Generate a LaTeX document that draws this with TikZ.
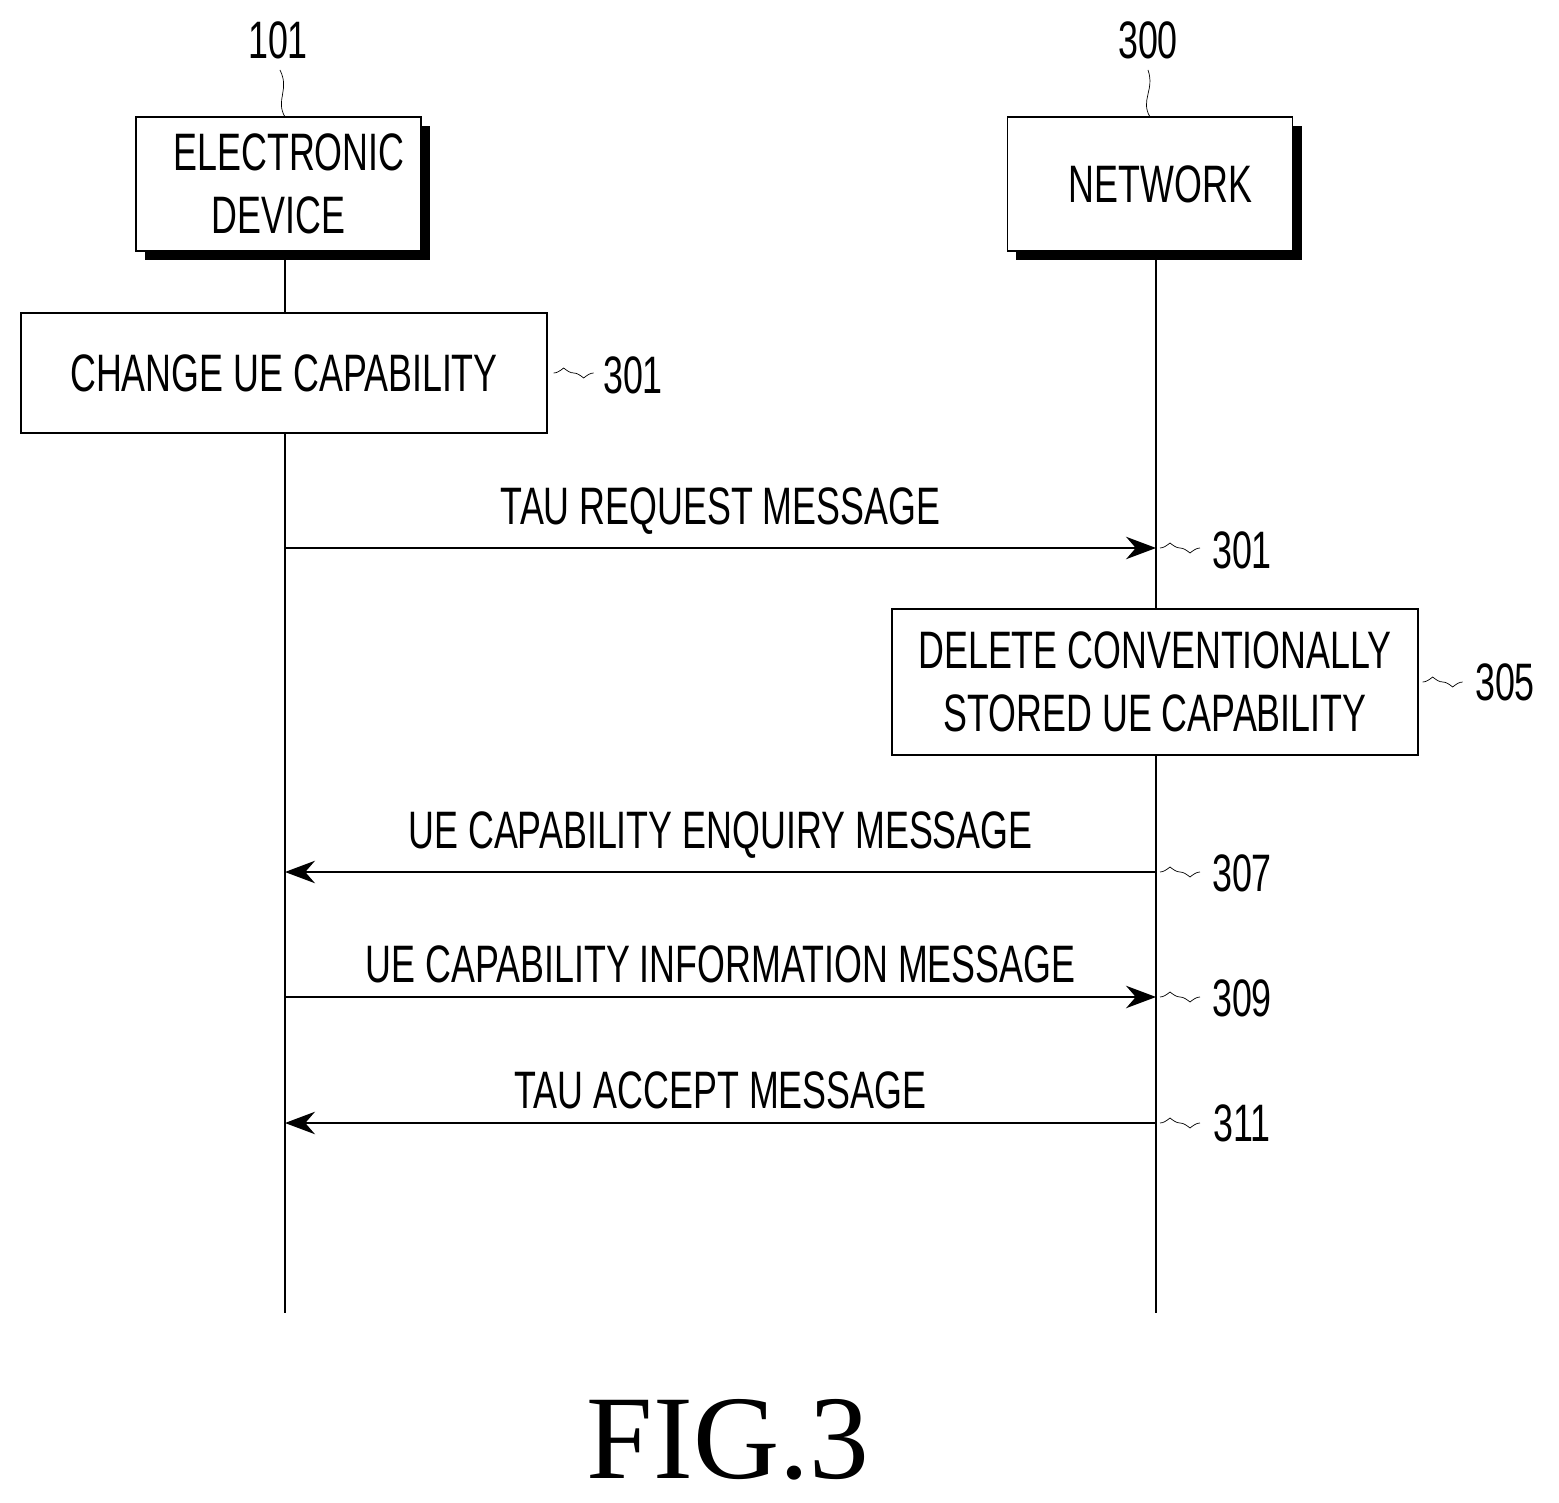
\documentclass[tikz,border=0pt]{standalone}
\usepackage{fontspec}
\setmainfont{Liberation Sans}[FakeStretch=0.68]
\newfontfamily\figfont{Liberation Serif}
\usetikzlibrary{arrows.meta}

\begin{document}
\begin{tikzpicture}[x=0.02cm, y=-0.02cm, thick,
  ent/.style = {draw, fill=white, minimum width=5.7cm, minimum height=2.68cm, align=center, font=\fontsize{30}{36}\selectfont},
  proc/.style = {draw, fill=white, align=center, font=\fontsize{30}{36}\selectfont},
  lbl/.style = {font=\fontsize{30}{36}\selectfont},
  msg/.style = {-{Stealth[length=0.6cm,width=0.45cm]}}] 
\useasboundingbox (0,0) rectangle (1559,1503);
% entities
\fill (145,126) rectangle (430,260);
\node[ent] (dev) at (278.5,184) {\hspace*{12pt}ELECTRONIC\\DEVICE};
\fill (1016,126) rectangle (1302,260);
\node[ent] (net) at (1150,184) {\hspace*{12pt}NETWORK};
\node[lbl] (n101) at (278,40) {101};
\node[lbl] (n300) at (1148,40) {300};
\draw[thin] (285,117) .. controls (275,100) and (290,90) .. (280,70);
\draw[thin] (1150,117) .. controls (1140,100) and (1155,90) .. (1148,70);
% lifelines
\draw (285,251) -- (285,1313);
\draw (1156,251) -- (1156,1313);
% steps
\node[proc, minimum width=10.52cm, minimum height=2.4cm] (s301) at (284,373) {CHANGE UE CAPABILITY};
\node[lbl] (l301) at (633,375) {301};
\draw[thin] (s301.east) ++(6,0) cos ++(10,-5) sin ++(10,5) cos ++(10,5) sin ++(10,-5);
\coordinate (a1) at (285,548); \coordinate (b1) at (1156,548);
\draw[msg] (a1) -- node[lbl, above=4pt] {TAU REQUEST MESSAGE} (b1);
\node[lbl] (l302) at (1242,550) {301};
\draw[thin] (1160,548) cos ++(10,-5) sin ++(10,5) cos ++(10,5) sin ++(10,-5);
\node[proc, minimum width=10.52cm, minimum height=2.92cm] (s305) at (1155,682) {DELETE CONVENTIONALLY\\STORED UE CAPABILITY};
\node[lbl] (l305) at (1505,682) {305};
\draw[thin] (s305.east) ++(4,0) cos ++(10,-5) sin ++(10,5) cos ++(10,5) sin ++(10,-5);
\coordinate (a2) at (285,872); \coordinate (b2) at (1156,872);
\draw[msg] (b2) -- node[lbl, above=4pt] {UE CAPABILITY ENQUIRY MESSAGE} (a2);
\node[lbl] (l307) at (1242,873) {307};
\draw[thin] (1160,872) cos ++(10,-5) sin ++(10,5) cos ++(10,5) sin ++(10,-5);
\coordinate (a3) at (285,997); \coordinate (b3) at (1156,997);
\draw[msg] (a3) -- node[lbl, above=4pt] {UE CAPABILITY INFORMATION MESSAGE} (b3);
\node[lbl] (l309) at (1242,998) {309};
\draw[thin] (1160,997) cos ++(10,-5) sin ++(10,5) cos ++(10,5) sin ++(10,-5);
\coordinate (a4) at (285,1123); \coordinate (b4) at (1156,1123);
\draw[msg] (b4) -- node[lbl, above=4pt] {TAU ACCEPT MESSAGE} (a4);
\node[lbl] (l311) at (1242,1123) {311};
\draw[thin] (1160,1123) cos ++(10,-5) sin ++(10,5) cos ++(10,5) sin ++(10,-5);
% caption
\node[font=\figfont\fontsize{68}{76}\selectfont] (cap) at (728,1440) {FIG.3};
\end{tikzpicture}
\end{document}
